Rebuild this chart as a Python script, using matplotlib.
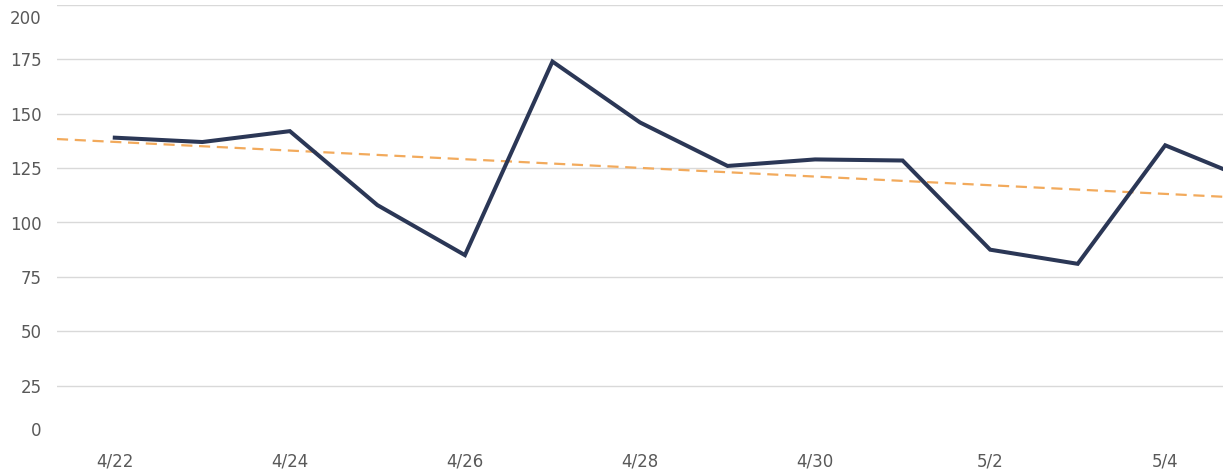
import numpy as np
import matplotlib
matplotlib.use("Agg")
import matplotlib.pyplot as plt
from matplotlib.transforms import ScaledTranslation

# daily values, 4/22 .. 5/5 (last one runs off the right edge)
dates = ["4/22", "4/23", "4/24", "4/25", "4/26", "4/27", "4/28",
         "4/29", "4/30", "5/1", "5/2", "5/3", "5/4", "5/5"]
values = [139, 137, 142, 108, 85, 174, 146, 126, 129, 128.5, 87.5, 81, 135.5, 119]
yticks = [0, 25, 50, 75, 100, 125, 150, 175, 200]

x = np.arange(len(dates))
y = np.array(values)

# linear trend through the series
slope, icept = np.polyfit(x, y, 1)

fig = plt.figure(figsize=(12.23, 4.69), dpi=100)
ax = fig.add_axes([57 / 1223, 1 - 440 / 469, 1 - 57 / 1223, 435 / 469])

xlim = (-0.66, 12.66)
tx = np.array(xlim)
ax.plot(tx, slope * tx + icept, color="#f2aa5c", lw=1.6, ls=(0, (5, 3)), zorder=2)
ax.plot(x, y, color="#2b3756", lw=2.9, solid_joinstyle="miter", zorder=3)

ax.set_xlim(*xlim)
ax.set_ylim(0, 200)
ax.set_yticks(yticks)
ax.set_xticks(x[::2])
ax.set_xticklabels(dates[::2])

ax.grid(axis="y", color="#d9d9d9", lw=1)
ax.get_ygridlines()[0].set_visible(False)
ax.set_axisbelow(True)
for s in ax.spines.values():
    s.set_visible(False)
ax.tick_params(length=0, colors="#595959", labelsize=12)
ax.tick_params(axis="y", pad=11)
ax.tick_params(axis="x", pad=9)

# end labels are nudged inward in the original
ylbls = ax.get_yticklabels()
lbl = ylbls[0]
lbl.set_transform(lbl.get_transform() + ScaledTranslation(0, 11 / 100, fig.dpi_scale_trans))
lbl = ylbls[-1]
lbl.set_transform(lbl.get_transform() + ScaledTranslation(0, -12 / 100, fig.dpi_scale_trans))

fig.savefig("out.png", dpi=100)
